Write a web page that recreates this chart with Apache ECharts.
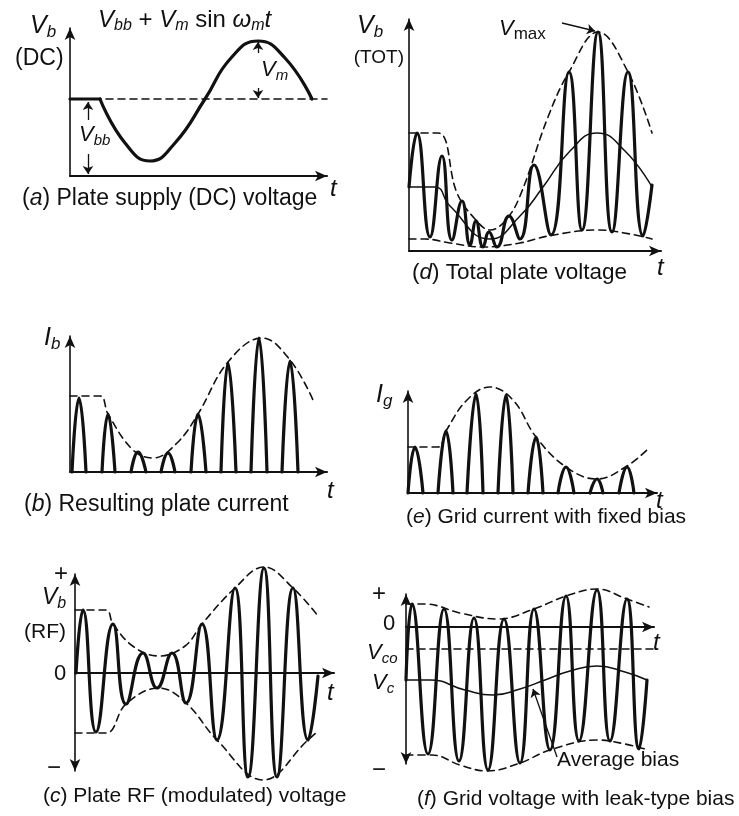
<!DOCTYPE html>
<html>
<head>
<meta charset="utf-8">
<script src="https://cdn.jsdelivr.net/npm/echarts@6/dist/echarts.min.js"></script>
<style>
html,body{margin:0;padding:0;background:#fff;}
#chart{width:739px;height:816px;}
</style>
</head>
<body>
<div id="chart"></div>
<script>
// values, arbitrary units: [t, v]
// (a) plate supply (DC) voltage
const supplyLead = [[0,77],[30,77]];
const supplyWave = [[30,77],[55,33],[80,15],[105,33],[135,77],[161,118],[188,135],[215,118],[242,77]];
const supplyLevel = [[0,77],[257,77]];

// (d) total plate voltage
const totalWave = [[0,64],[8,118],[21,14],[33,95],[43,11],[53,50],[61,6],[67,30],[74,4],[80,19],[88,4],[100,35],[111,12],[125,86],[142,16],[160,179],[173,21],[189,219],[203,19],[219,179],[234,15],[243,66]];
const totalUpper = [[0,118],[29,118],[48,58],[66,32],[81,21],[96,30],[111,55],[139,134],[160,179],[189,219],[219,179],[243,118]];
const totalLower = [[0,12],[16,12],[41,8],[74,4],[111,8],[139,15],[189,21],[221,17],[243,12]];
const totalSupply = [[0,64],[26,64],[41,45],[81,12],[111,35],[134,64],[161,100],[188,118],[216,100],[243,64]];

// (b) plate current pulses: [start, peak time, end, peak]
const platePulses = [[2,9,16,74],[32,38,45,58],[61,68,76,20],[91,98,105,19],[121,128,136,58],[151,158,166,109],[181,189,197,134],[212,220,228,111]];
const plateEnv = [[0,76],[30,76],[38,58],[63,22],[83,14],[107,29],[128,58],[158,110],[192,134],[220,112],[243,72]];

// (e) grid current pulses
const gridPulses = [[0,7,15,46],[30,38,45,62],[59,68,75,99],[90,98,105,98],[120,128,135,56],[150,158,166,26],[182,189,195,14],[211,219,226,26]];
const gridEnv = [[0,46],[30,46],[38,62],[59,93],[82,106],[105,93],[128,56],[158,26],[189,14],[219,27],[241,45]];

// (c) plate RF voltage
const rfWave = [[1,0],[8,63],[21,-59],[38,49],[51,-31],[68,20],[82,-15],[97,20],[111,-30],[127,49],[142,-67],[160,85],[173,-104],[189,105],[202,-104],[218,85],[233,-67],[243,-3]];
const rfUpper = [[0,63],[31,63],[38,49],[59,26],[84,17],[110,27],[127,49],[160,85],[189,106],[218,85],[243,57]];
const rfLower = [[0,-60],[31,-60],[51,-31],[84,-15],[111,-30],[142,-67],[188,-107],[233,-67],[243,-58]];

// (f) grid voltage, leak-type bias
const gridVWave = [[0,-53],[6,23],[22,-127],[38,18],[53,-134],[68,9],[82,-143],[98,8],[114,-136],[128,18],[144,-123],[160,31],[173,-114],[191,37],[204,-114],[221,28],[233,-122],[241,-53]];
const gridVUpper = [[0,23],[19,23],[54,14],[92,8],[128,18],[160,31],[191,38],[221,28],[243,20]];
const gridVLower = [[0,-128],[26,-128],[54,-138],[81,-144],[114,-136],[144,-123],[191,-113],[219,-117],[239,-122]];
const gridVBias = [[0,-53],[24,-53],[59,-63],[87,-68],[114,-62],[139,-53],[164,-44],[191,-39],[219,-45],[241,-53]];
const gridVCutoff = [[0,-22],[251,-22]];

const FONT = '"Liberation Sans", Arial, Helvetica, sans-serif';
const INK = '#111';

// panel frames: a, d, b, e, c, f
const panels = [
	{left:70, top:28, width:257, height:148, yMin:0, yMax:148},
	{left:409, top:19, width:252, height:232, yMin:0, yMax:232},
	{left:70, top:336, width:257, height:136, yMin:0, yMax:136},
	{left:408, top:391, width:249, height:102, yMin:0, yMax:102},
	{left:75, top:574, width:259, height:197, yMin:-98, yMax:99, both:true},
	{left:406, top:594, width:248, height:170, yMin:-137, yMax:33, both:true}
];

const grid = panels.map(p => ({left:p.left, top:p.top, width:p.width, height:p.height}));
const xAxis = panels.map((p,k) => ({
	gridIndex:k, type:'value', min:0, max:p.width,
	axisLine:{show:true, onZero:true, symbol:['none','arrow'], symbolSize:[8,12], lineStyle:{color:INK, width:2}},
	axisTick:{show:false}, axisLabel:{show:false}, splitLine:{show:false}
}));
const yAxis = panels.map((p,k) => ({
	gridIndex:k, type:'value', min:p.yMin, max:p.yMax,
	axisLine:{show:true, onZero:false, symbol:p.both?['arrow','arrow']:['none','arrow'], symbolSize:[8,12], lineStyle:{color:INK, width:1.6}},
	axisTick:{show:false}, axisLabel:{show:false}, splitLine:{show:false}
}));

const styles = {
	thick:{width:3.2, type:'solid'},
	dash:{width:1.6, type:[7,5]},
	thin:{width:1.5, type:'solid'}
};
function line(g, data, kind, smooth, extra){
	return Object.assign({
		type:'line', xAxisIndex:g, yAxisIndex:g, data:data, symbol:'none',
		smooth:smooth, clip:false, silent:true, animation:false,
		lineStyle:Object.assign({color:INK, cap:'round', join:'round'}, styles[kind])
	}, extra||{});
}
function pulses(g, list){
	return list.map(p => line(g, [[p[0],0],[p[1],p[3]],[p[2],0]], 'thick', 0.5));
}
function arrows(pairs, curve){
	return {
		silent:true, animation:false, symbol:['none','arrow'], symbolSize:8,
		label:{show:false},
		lineStyle:{color:INK, width:1.3, type:'solid', curveness:curve||0},
		data:pairs.map(p => [{coord:p[0]},{coord:p[1]}])
	};
}

const series = [
	line(0, supplyLevel, 'dash', false),
	line(0, supplyLead, 'thick', false),
	line(0, supplyWave, 'thick', 0.5, {markLine:arrows([
		[[188,123],[188,134]], [[188,88],[188,78]],
		[[18,56],[18,74]], [[18,22],[18,2]]
	])}),

	line(1, totalLower, 'dash', 0.4),
	line(1, totalUpper, 'dash', 0.4),
	line(1, totalSupply, 'thin', 0.5),
	line(1, totalWave, 'thick', 0.5, {markLine:arrows([[[153,228],[186,220]]], 0.25)}),

	line(2, plateEnv, 'dash', 0.4),
	...pulses(2, platePulses),

	line(3, gridEnv, 'dash', 0.4),
	...pulses(3, gridPulses),

	line(4, rfUpper, 'dash', 0.4),
	line(4, rfLower, 'dash', 0.4),
	line(4, rfWave, 'thick', 0.5),

	line(5, gridVCutoff, 'dash', false),
	line(5, gridVUpper, 'dash', 0.4),
	line(5, gridVLower, 'dash', 0.4),
	line(5, gridVBias, 'thin', 0.5),
	line(5, gridVWave, 'thick', 0.5, {markLine:arrows([[[151,-130],[127,-62]]], 0.3)})
];

// text
function txt(x, y, text, size, extra){
	return {type:'text', x:x, y:y, silent:true, style:Object.assign({
		text:text, fontFamily:FONT, fontSize:size, fill:INK,
		align:'left', verticalAlign:'middle', textAlign:'left', textVerticalAlign:'middle'
	}, extra||{})};
}
function richStyles(size){
	const sub = Math.round(size*0.68);
	return {
		m:{fontFamily:FONT, fontSize:size, fontStyle:'italic', fill:INK},
		s:{fontFamily:FONT, fontSize:sub, fontStyle:'italic', fill:INK, padding:[Math.round(size*0.5),0,0,0]},
		u:{fontFamily:FONT, fontSize:Math.round(size*0.78), fill:INK, padding:[Math.round(size*0.45),0,0,0]},
		n:{fontFamily:FONT, fontSize:size, fill:INK}
	};
}
function sym(x, y, text, size){
	return txt(x, y, text, size, {rich:richStyles(size)});
}
function caption(x, y, letter, rest, size){
	return txt(x, y, '{n|(}{m|'+letter+'}{n|) '+rest+'}', size, {rich:richStyles(size)});
}
const ital = {fontStyle:'italic'};

const graphic = [
	// (a)
	sym(30, 26, '{m|V}{s|b}', 25),
	txt(15, 59, '(DC)', 23),
	sym(98, 20, '{m|V}{s|bb}{n| + }{m|V}{s|m}{n| sin }{m|ω}{s|m}{m|t}', 24),
	sym(261, 70, '{m|V}{s|m}', 22),
	sym(79, 135, '{m|V}{s|bb}', 22),
	txt(330, 189, 't', 24, ital),
	caption(22, 199, 'a', 'Plate supply (DC) voltage', 23),
	// (d)
	sym(357, 26, '{m|V}{s|b}', 25),
	txt(404, 58, '(TOT)', 19, {align:'right', textAlign:'right'}),
	sym(499, 29, '{m|V}{u|max}', 22),
	txt(657, 268, 't', 24, ital),
	caption(412, 273, 'd', 'Total plate voltage', 22.5),
	// (b)
	sym(44, 338, '{m|I}{s|b}', 25),
	txt(327, 491, 't', 24, ital),
	caption(24, 505, 'b', 'Resulting plate current', 23),
	// (e)
	sym(376, 395, '{m|I}{s|g}', 25),
	txt(656, 501, 't', 24, ital),
	caption(406, 517, 'e', 'Grid current with fixed bias', 21),
	// (c)
	txt(54, 574, '+', 24),
	sym(42, 598, '{m|V}{s|b}', 23),
	txt(24, 632, '(RF)', 21),
	txt(54, 674, '0', 22),
	txt(47, 768, '−', 24),
	txt(327, 693, 't', 24, ital),
	caption(43, 796, 'c', 'Plate RF (modulated) voltage', 21),
	// (f)
	txt(372, 594, '+', 24),
	txt(383, 624, '0', 22),
	sym(367, 653, '{m|V}{s|co}', 22),
	sym(372, 683, '{m|V}{s|c}', 22),
	txt(372, 770, '−', 24),
	txt(653, 643, 't', 24, ital),
	txt(557, 760, 'Average bias', 21),
	caption(417, 799, 'f', 'Grid voltage with leak-type bias', 21)
];

const chart = echarts.init(document.getElementById('chart'), null, {renderer:'canvas'});
chart.setOption({
	backgroundColor:'#fff',
	animation:false,
	grid:grid,
	xAxis:xAxis,
	yAxis:yAxis,
	series:series,
	graphic:graphic
});
</script>
</body>
</html>
